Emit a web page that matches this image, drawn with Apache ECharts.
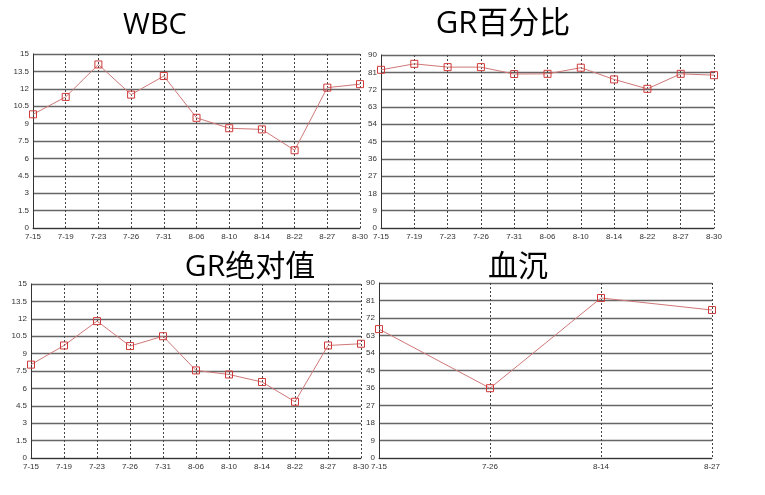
<!DOCTYPE html>
<html>
<head>
<meta charset="utf-8">
<script src="https://cdn.jsdelivr.net/npm/echarts@6/dist/echarts.min.js"></script>
<style>
  html, body { margin: 0; padding: 0; background: #fff; }
  #chart { width: 765px; height: 495px; }
</style>
</head>
<body>
<div id="chart"></div>
<script>
// dates for the three long series
const dates = ["7-15", "7-19", "7-23", "7-26", "7-31", "8-06", "8-10", "8-14", "8-22", "8-27", "8-30"];
// dates for 血沉
const esrDates = ["7-15", "7-26", "8-14", "8-27"];

const wbc = [9.8, 11.3, 14.1, 11.5, 13.1, 9.5, 8.6, 8.5, 6.7, 12.1, 12.4];
const grPercent = [82.3, 85.4, 83.7, 83.7, 80.1, 80.2, 83.4, 77.3, 72.4, 80.2, 79.5];
const grAbs = [8.05, 9.7, 11.8, 9.65, 10.5, 7.55, 7.2, 6.55, 4.85, 9.7, 9.85];
const esr = [66.3, 35.9, 82.3, 76.1];

const titles = ["WBC", "GR百分比", "GR绝对值", "血沉"];

// panel layout
const grids = [
  { left: 33, top: 54, width: 327, height: 174 },
  { left: 381, top: 55, width: 333, height: 173 },
  { left: 31, top: 284, width: 330, height: 174 },
  { left: 379, top: 283, width: 333, height: 175 },
];
const titlePos = [
  { x: 150, y: 21, size: 29 },
  { x: 498, y: 19, size: 31 },
  { x: 245, y: 262, size: 30 },
  { x: 513, y: 262, size: 30 },
];

const panels = [
  { cats: dates, data: wbc, max: 15, step: 1.5 },
  { cats: dates, data: grPercent, max: 90, step: 9 },
  { cats: dates, data: grAbs, max: 15, step: 1.5 },
  { cats: esrDates, data: esr, max: 90, step: 9 },
];

const labelStyle = { fontSize: 8, color: "#333", fontFamily: "Liberation Sans" };

const option = {
  animation: false,
  backgroundColor: "#fff",
  title: titles.map((t, i) => ({
    text: t,
    left: titlePos[i].x,
    top: titlePos[i].y,
    textAlign: "center",
    textVerticalAlign: "middle",
    textStyle: {
      fontSize: titlePos[i].size,
      fontWeight: "normal",
      color: "#000",
      fontFamily: "Open Sans, Noto Sans CJK SC",
    },
  })),
  grid: grids,
  xAxis: panels.map((p, i) => ({
    type: "category",
    gridIndex: i,
    data: p.cats,
    boundaryGap: false,
    axisLine: { lineStyle: { color: "#333", width: 1 } },
    axisTick: { show: false },
    axisLabel: Object.assign({ margin: 5, interval: 0 }, labelStyle),
    splitLine: {
      show: true,
      lineStyle: { color: "#444", type: [2, 2], width: 1 },
    },
  })),
  yAxis: panels.map((p, i) => ({
    type: "value",
    gridIndex: i,
    min: 0,
    max: p.max,
    interval: p.step,
    axisLine: { show: true, lineStyle: { color: "#333", width: 1 } },
    axisTick: { show: false },
    axisLabel: Object.assign({ margin: 4 }, labelStyle),
    splitLine: { lineStyle: { color: "#666", width: 1.3 } },
  })),
  series: panels.map((p, i) => ({
    type: "line",
    xAxisIndex: i,
    yAxisIndex: i,
    data: p.data,
    symbol: "rect",
    symbolSize: 7,
    lineStyle: { color: "#d07878", width: 1 },
    itemStyle: { color: "rgba(255,255,255,0)", borderColor: "#d03a3a", borderWidth: 1 },
  })),
};

const chart = echarts.init(document.getElementById("chart"));
chart.setOption(option);
</script>
</body>
</html>
